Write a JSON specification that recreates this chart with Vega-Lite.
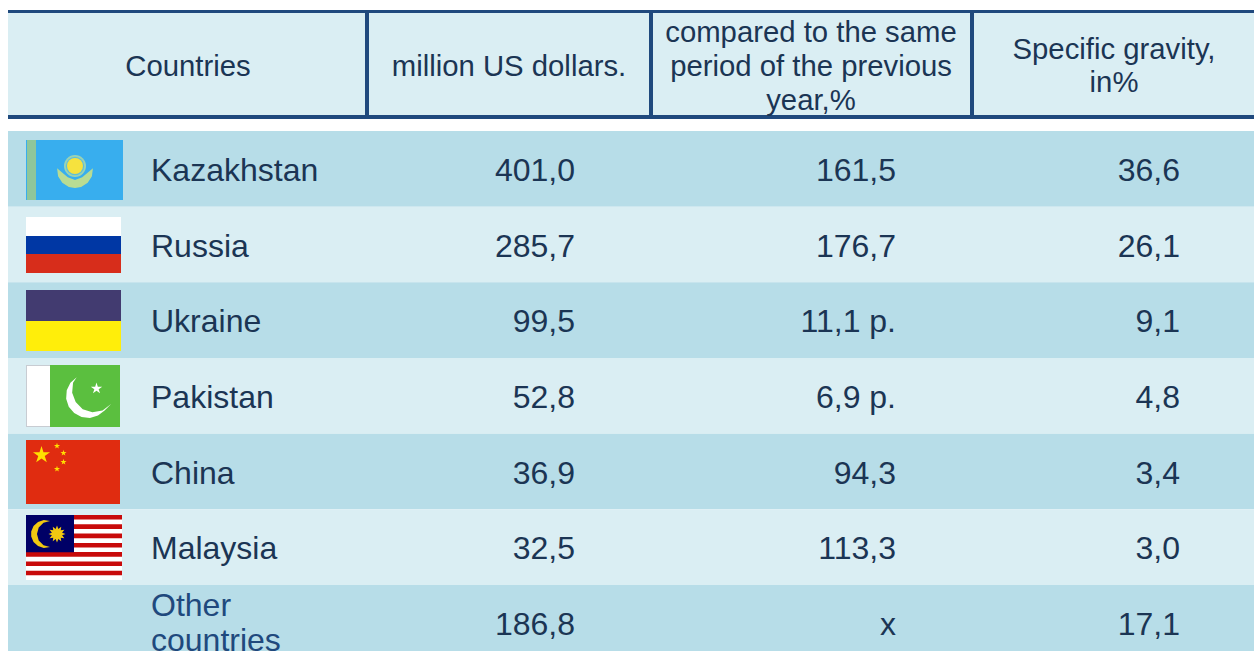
{
"$schema":"https://vega.github.io/schema/vega-lite/v6.json",
"width":1254,"height":651,"padding":0,
"autosize":{"type":"fit","contains":"padding"},
"background":"#ffffff",
"config":{"view":{"stroke":null},"axis":{"disable":true},"legend":{"disable":true},"text":{"font":"Liberation Sans"}},
"datasets":{
"rows":[
{"country":"Kazakhstan","shade":"dark"},
{"country":"Russia","shade":"light"},
{"country":"Ukraine","shade":"dark"},
{"country":"Pakistan","shade":"light"},
{"country":"China","shade":"dark"},
{"country":"Malaysia","shade":"light"},
{"country":"Other countries","shade":"dark"}],
"names":[
{"country":"Kazakhstan"},{"country":"Russia"},{"country":"Ukraine"},{"country":"Pakistan"},{"country":"China"},{"country":"Malaysia"}],
"otherName":[{"line":1,"text":"Other"},{"line":2,"text":"countries"}],
"cells":[
{"country":"Kazakhstan","col":1,"text":"401,0"},{"country":"Kazakhstan","col":2,"text":"161,5"},{"country":"Kazakhstan","col":3,"text":"36,6"},
{"country":"Russia","col":1,"text":"285,7"},{"country":"Russia","col":2,"text":"176,7"},{"country":"Russia","col":3,"text":"26,1"},
{"country":"Ukraine","col":1,"text":"99,5"},{"country":"Ukraine","col":2,"text":"11,1 p."},{"country":"Ukraine","col":3,"text":"9,1"},
{"country":"Pakistan","col":1,"text":"52,8"},{"country":"Pakistan","col":2,"text":"6,9 p."},{"country":"Pakistan","col":3,"text":"4,8"},
{"country":"China","col":1,"text":"36,9"},{"country":"China","col":2,"text":"94,3"},{"country":"China","col":3,"text":"3,4"},
{"country":"Malaysia","col":1,"text":"32,5"},{"country":"Malaysia","col":2,"text":"113,3"},{"country":"Malaysia","col":3,"text":"3,0"},
{"country":"Other countries","col":1,"text":"186,8"},{"country":"Other countries","col":2,"text":"x"},{"country":"Other countries","col":3,"text":"17,1"}],
"header":[
{"slot":3,"col":1,"text":"Countries"},
{"slot":3,"col":2,"text":"million US dollars."},
{"slot":1,"col":3,"text":"compared to the same"},
{"slot":3,"col":3,"text":"period of the previous"},
{"slot":5,"col":3,"text":"year,%"},
{"slot":2,"col":4,"text":"Specific gravity,"},
{"slot":4,"col":4,"text":"in%"}],
"shapes":[
{"part":"head","x":8,"x2":1254,"y":12,"y2":117},
{"part":"rule","x":8,"x2":1254,"y":10,"y2":13},
{"part":"rule","x":8,"x2":1254,"y":115,"y2":119},
{"part":"rule","x":365,"x2":369,"y":10,"y2":119},
{"part":"rule","x":649,"x2":653,"y":10,"y2":119},
{"part":"rule","x":970,"x2":974,"y":10,"y2":119},
{"part":"kzsky","x":26,"x2":123,"y":140,"y2":200},
{"part":"kzbar","x":27,"x2":36,"y":140,"y2":200},
{"part":"white","x":26,"x2":121,"y":217,"y2":236},
{"part":"rublue","x":26,"x2":121,"y":236,"y2":254},
{"part":"rured","x":26,"x2":121,"y":254,"y2":273},
{"part":"uatop","x":26,"x2":121,"y":290,"y2":321},
{"part":"uayel","x":26,"x2":121,"y":321,"y2":351},
{"part":"pkedge","x":26,"x2":51,"y":365,"y2":427},
{"part":"white","x":27,"x2":50,"y":366,"y2":426},
{"part":"pkgreen","x":50,"x2":120,"y":365,"y2":427},
{"part":"cnred","x":26,"x2":120,"y":440,"y2":504},
{"part":"mywhite","x":26,"x2":122,"y":515,"y2":580},
{"part":"myred","x":26,"x2":122,"y":515,"y2":519.6},
{"part":"myred","x":26,"x2":122,"y":524.3,"y2":528.9},
{"part":"myred","x":26,"x2":122,"y":533.6,"y2":538.2},
{"part":"myred","x":26,"x2":122,"y":542.9,"y2":547.5},
{"part":"myred","x":26,"x2":122,"y":552.1,"y2":556.8},
{"part":"myred","x":26,"x2":122,"y":561.4,"y2":566},
{"part":"myred","x":26,"x2":122,"y":570.7,"y2":575.3},
{"part":"myblue","x":26,"x2":74,"y":515,"y2":552.3}],
"symbols":[
{"part":"kzwings","x":75,"y":170},
{"part":"kzring","x":75,"y":166},
{"part":"kzgap","x":75,"y":166},
{"part":"kzsun","x":75,"y":166},
{"part":"pkcrescent","x":88,"y":396},
{"part":"pkstar","x":96.5,"y":388.5},
{"part":"cnbig","x":41.5,"y":455},
{"part":"cnsmall","x":57,"y":446},
{"part":"cnsmall","x":63.5,"y":453},
{"part":"cnsmall","x":63.5,"y":462},
{"part":"cnsmall","x":57,"y":469},
{"part":"mycrescent","x":45,"y":534},
{"part":"mysun","x":57,"y":534}]
},
"resolve":{"scale":{"x":"independent","y":"independent","color":"independent"}},
"layer":[
{"data":{"name":"rows"},"mark":{"type":"rect"},
"encoding":{
"x":{"datum":8,"type":"quantitative","scale":{"domain":[0,1254],"range":[0,1254]}},
"x2":{"datum":1254},
"y":{"field":"country","type":"nominal","sort":null,"scale":{"type":"band","domain":["Kazakhstan","Russia","Ukraine","Pakistan","China","Malaysia","Other countries"],"range":[131,660.7],"paddingInner":0,"paddingOuter":0}},
"color":{"field":"shade","type":"nominal","scale":{"domain":["dark","light"],"range":["#B7DDE8","#DAEEF3"]}}}},
{"data":{"name":"shapes"},"mark":{"type":"rect"},
"encoding":{
"x":{"field":"x","type":"quantitative","scale":{"domain":[0,1254],"range":[0,1254]}},
"x2":{"field":"x2"},
"y":{"field":"y","type":"quantitative","scale":{"domain":[0,651],"range":[0,651]}},
"y2":{"field":"y2"},
"color":{"field":"part","type":"nominal","scale":{
"domain":["head","rule","kzsky","kzbar","white","rublue","rured","uatop","uayel","pkedge","pkgreen","cnred","mywhite","myred","myblue"],
"range":["#DAEEF3","#1F497D","#38AEEE","#8FC69A","#FFFFFF","#0037A4","#D72D1B","#423B70","#FFEE0A","#C8CCD2","#5BBF3F","#E02C10","#FFFFFF","#C80A0A","#000066"]}}}},
{"data":{"name":"symbols"},"mark":{"type":"point","filled":true,"opacity":1,"strokeWidth":0},
"encoding":{
"x":{"field":"x","type":"quantitative","scale":{"domain":[0,1254],"range":[0,1254]}},
"y":{"field":"y","type":"quantitative","scale":{"domain":[0,651],"range":[0,651]}},
"color":{"field":"part","type":"nominal","scale":{
"domain":["kzwings","kzring","kzgap","kzsun","pkcrescent","pkstar","cnbig","cnsmall","mycrescent","mysun"],
"range":["#B9DC93","#9AD3B4","#5FBFD8","#F6E23E","#FFFFFF","#FFFFFF","#FFE000","#FFE000","#F2C811","#F2C811"]}},
"size":{"field":"part","type":"nominal","scale":{"type":"ordinal",
"domain":["kzwings","kzring","kzgap","kzsun","pkcrescent","pkstar","cnbig","cnsmall","mycrescent","mysun"],
"range":[1296,484,340,256,1936,144,324,41,784,289]}},
"shape":{"field":"part","type":"nominal","scale":{
"domain":["kzwings","kzring","kzgap","kzsun","pkcrescent","pkstar","cnbig","cnsmall","mycrescent","mysun"],
"range":[
"M-0.995,-0.1L-0.94,0.342L-0.707,0.707L-0.342,0.94L0,1L0.342,0.94L0.707,0.707L0.94,0.342L0.995,-0.1L0.7,0.15L0.4,0.4L0,0.55L-0.4,0.4L-0.7,0.15Z",
"circle","circle","circle",
"M-0.515,-0.857L-0.799,-0.602L-0.966,-0.259L-0.993,0.122L-0.875,0.485L-0.629,0.777L-0.292,0.956L0.087,0.996L0.454,0.891L0.755,0.656L1.05,0.36L0.66,0.66L0.2,0.74L-0.24,0.6L-0.56,0.27L-0.72,-0.15L-0.68,-0.6Z",
"M0,-1L0.22,-0.31L0.95,-0.31L0.36,0.12L0.59,0.81L0,0.38L-0.59,0.81L-0.36,0.12L-0.95,-0.31L-0.22,-0.31Z",
"M0,-1L0.22,-0.31L0.95,-0.31L0.36,0.12L0.59,0.81L0,0.38L-0.59,0.81L-0.36,0.12L-0.95,-0.31L-0.22,-0.31Z",
"M0,-1L0.22,-0.31L0.95,-0.31L0.36,0.12L0.59,0.81L0,0.38L-0.59,0.81L-0.36,0.12L-0.95,-0.31L-0.22,-0.31Z",
"M0.358,-0.934L-0.087,-0.996L-0.5,-0.866L-0.819,-0.574L-0.985,-0.174L-0.985,0.174L-0.819,0.574L-0.5,0.866L-0.087,0.996L0.358,0.934L-0.107,0.809L-0.449,0.467L-0.574,0L-0.449,-0.467L-0.107,-0.809Z",
"M0,-1L0.16,-0.6L0.5,-0.866L0.44,-0.44L0.866,-0.5L0.6,-0.16L1,0L0.6,0.16L0.866,0.5L0.44,0.44L0.5,0.866L0.16,0.6L0,1L-0.16,0.6L-0.5,0.866L-0.44,0.44L-0.866,0.5L-0.6,0.16L-1,0L-0.6,-0.16L-0.866,-0.5L-0.44,-0.44L-0.5,-0.866L-0.16,-0.6Z"
]}}}},
{"data":{"name":"header"},"mark":{"type":"text","font":"Liberation Sans","fontSize":29.3,"align":"center","baseline":"middle","color":"#1B3554"},
"encoding":{
"x":{"field":"col","type":"quantitative","scale":{"domain":[1,2,3,4],"range":[188,509,811,1114]}},
"y":{"field":"slot","type":"quantitative","scale":{"domain":[1,2,3,4,5],"range":[33,50,66.5,83,101]}},
"text":{"field":"text","type":"nominal"}}},
{"data":{"name":"names"},"mark":{"type":"text","font":"Liberation Sans","fontSize":32,"align":"left","baseline":"middle","dy":2,"color":"#1B3554"},
"encoding":{
"x":{"datum":151,"type":"quantitative","scale":{"domain":[0,1254],"range":[0,1254]}},
"y":{"field":"country","type":"nominal","sort":null,"scale":{"type":"band","domain":["Kazakhstan","Russia","Ukraine","Pakistan","China","Malaysia","Other countries"],"range":[131,660.7],"paddingInner":0,"paddingOuter":0}},
"text":{"field":"country","type":"nominal"}}},
{"data":{"name":"otherName"},"mark":{"type":"text","font":"Liberation Sans","fontSize":32,"align":"left","baseline":"middle","color":"#1F497D"},
"encoding":{
"x":{"datum":151,"type":"quantitative","scale":{"domain":[0,1254],"range":[0,1254]}},
"y":{"field":"line","type":"quantitative","scale":{"domain":[1,2],"range":[606,641]}},
"text":{"field":"text","type":"nominal"}}},
{"data":{"name":"cells"},"mark":{"type":"text","font":"Liberation Sans","fontSize":32,"align":"right","baseline":"middle","dy":2,"color":"#1B3554"},
"encoding":{
"x":{"field":"col","type":"quantitative","scale":{"domain":[1,2,3],"range":[575,896,1180]}},
"y":{"field":"country","type":"nominal","sort":null,"scale":{"type":"band","domain":["Kazakhstan","Russia","Ukraine","Pakistan","China","Malaysia","Other countries"],"range":[131,660.7],"paddingInner":0,"paddingOuter":0}},
"text":{"field":"text","type":"nominal"}}}
]
}
